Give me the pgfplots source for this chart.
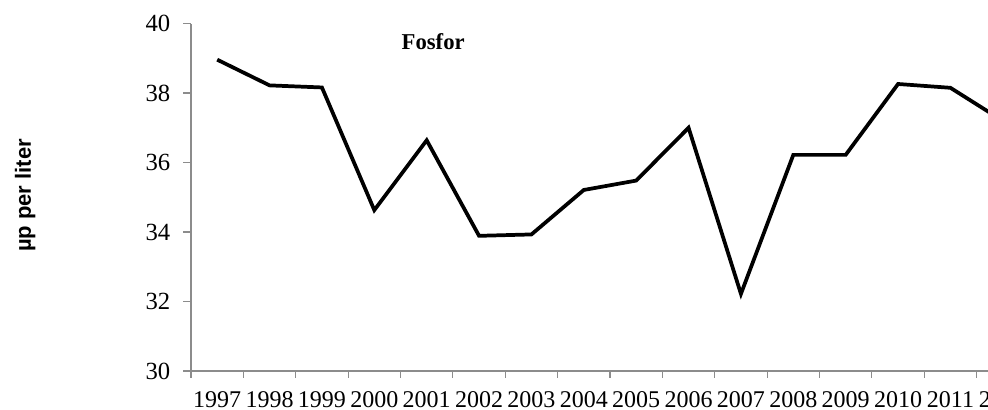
\documentclass[border=0pt]{standalone}
\usepackage{pgfplots}
\pgfplotsset{compat=1.18}
\usepackage{fontspec}
\setmainfont{Liberation Serif}
\newfontfamily\labfont{Liberation Sans}
\begin{document}
\begin{tikzpicture}
\path[use as bounding box] (0,0) rectangle (741pt,307.5pt);
\clip (0,0) rectangle (741pt,307.5pt);
\begin{axis}[
  at={(143.25pt,29.25pt)}, anchor=south west,
  scale only axis, width=628.5pt, height=260.6pt,
  xmin=-0.5, xmax=15.5, ymin=30, ymax=40,
  axis lines*=left,
  axis line style={draw=black!45, line width=0.9pt},
  tick align=outside,
  xtick={0,...,15},
  xticklabels={1997,1998,1999,2000,2001,2002,2003,2004,2005,2006,2007,2008,2009,2010,2011,2012},
  major x tick style={draw=none},
  minor xtick={-0.5,0.5,...,15.5},
  minor x tick style={draw=black!45, line width=0.9pt},
  minor tick length=5pt,
  ytick={30,32,...,40},
  major y tick style={draw=black!45, line width=0.9pt},
  major tick length=6pt,
  /pgf/number format/assume math mode=true,
  xticklabel style={font=\fontsize{18}{20}\selectfont, inner ysep=0pt, yshift=-9pt},
  yticklabel style={font=\fontsize{18.5}{20}\selectfont, xshift=-6pt},
  clip=false,
]
\addplot[black, line width=2.8pt, line join=miter] coordinates {
(0,38.96) (1,38.22) (2,38.16) (3,34.63) (4,36.64) (5,33.89) (6,33.93) (7,35.21)
(8,35.48) (9,37.00) (10,32.22) (11,36.22) (12,36.22) (13,38.26) (14,38.15) (15,37.2)
};
\node[font=\fontsize{17}{19}\selectfont\bfseries] at (rel axis cs:0.289,0.948) {Fosfor};
\node[font=\fontsize{16.5}{18}\selectfont\labfont\bfseries, rotate=90] at (rel axis cs:-0.198,0.505) {µp per liter};
\end{axis}
\end{tikzpicture}
\end{document}
